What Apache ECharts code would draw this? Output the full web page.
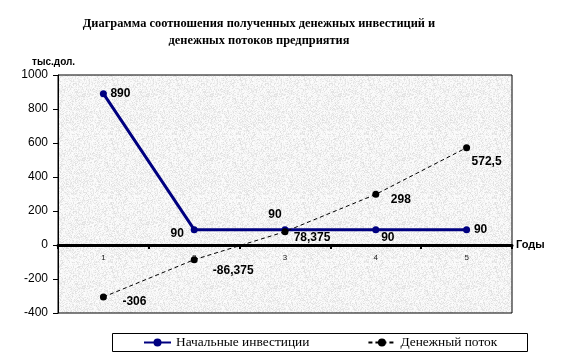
<!DOCTYPE html>
<html><head><meta charset="utf-8">
<script src="https://cdn.jsdelivr.net/npm/echarts@6/dist/echarts.min.js"></script>
<style>html,body{margin:0;padding:0;background:#fff}#c{width:564px;height:358px}</style>
</head><body><div id="c"></div>
<script>
const categories = ['1', '2', '3', '4', '5'];
const investments = [890, 90, 90, 90, 90];
const cashFlow = [-306, -86.375, 78.375, 298, 572.5];
const yTicks = {min: -400, max: 1000, interval: 200};
const seriesNames = ['Начальные инвестиции', 'Денежный поток'];

// label offsets (style only)
const invOffsets = [[17, 0], [-17, 4], [-10, -15], [12, 8], [14, 0]];
const cfOffsets = [[31, 5], [39, 11], [27, 6], [25, 5], [20, 14]];

// speckled texture
const tex = document.createElement('canvas');
tex.width = 64; tex.height = 64;
const tctx = tex.getContext('2d');
const img = tctx.createImageData(64, 64);
let s = 12345;
for (let i = 0; i < 64 * 64; i++) {
  s = (s * 1103515245 + 12345) & 0x7fffffff;
  const r = ((s >> 8) % 1000) / 1000;
  const v = Math.round(252 - 30 * r * r);
  img.data[i * 4] = v; img.data[i * 4 + 1] = v; img.data[i * 4 + 2] = v; img.data[i * 4 + 3] = 255;
}
tctx.putImageData(img, 0, 0);

const fmt = v => String(v).replace('.', ',');
const lbl = {show: true, position: 'inside', fontFamily: 'Liberation Sans, Arial', fontWeight: 'bold', fontSize: 12, color: '#000'};

const chart = echarts.init(document.getElementById('c'), null, {renderer: 'canvas'});
chart.setOption({
  animation: false,
  backgroundColor: '#fff',
  title: {
    text: 'Диаграмма соотношения полученных денежных инвестиций и\nденежных потоков предприятия',
    left: 254, top: 11, textAlign: 'center',
    textStyle: {fontFamily: 'Liberation Serif', fontWeight: 'bold', fontSize: 12.4, lineHeight: 16.5, color: '#000'}
  },
  grid: {left: 58, right: 52, top: 75, bottom: 45, show: true, borderColor: '#000', borderWidth: 1,
    backgroundColor: {image: tex, repeat: 'repeat'}},
  legend: {
    left: 143, top: 336, itemWidth: 27, itemHeight: 10, itemGap: 58, padding: 0,
    textStyle: {fontFamily: 'Liberation Serif', fontSize: 13.4, color: '#000'},
    data: seriesNames
  },
  graphic: [
    {type: 'rect', shape: {x: 112.5, y: 333.5, width: 415, height: 18}, style: {fill: 'none', stroke: '#000', lineWidth: 1}, z: 100},
    {type: 'text', left: 32, top: 57, style: {text: 'тыс.дол.', fontFamily: 'Liberation Sans', fontWeight: 'bold', fontSize: 10, fill: '#000'}}
  ],
  xAxis: {
    type: 'category', data: categories, boundaryGap: true, position: 'bottom', offset: -68,
    name: 'Годы', nameLocation: 'end', nameGap: 4,
    nameTextStyle: {fontFamily: 'Liberation Sans', fontWeight: 'bold', fontSize: 11, color: '#000'},
    axisLine: {onZero: false, lineStyle: {color: '#000', width: 3}},
    axisTick: {show: true, length: 4, lineStyle: {color: '#000', width: 2}},
    axisLabel: {fontFamily: 'Liberation Sans', fontSize: 8, color: '#222', margin: 9},
    splitLine: {show: false}
  },
  yAxis: {
    type: 'value', min: yTicks.min, max: yTicks.max, interval: yTicks.interval,
    axisLine: {show: true, lineStyle: {color: '#000', width: 1}},
    axisTick: {show: true, length: 5, lineStyle: {color: '#000'}},
    axisLabel: {fontFamily: 'Liberation Sans, Arial', fontSize: 12, color: '#000', margin: 10, formatter: v => String(v)},
    splitLine: {show: false}
  },
  series: [
    {
      name: seriesNames[0], type: 'line', data: investments.map((v, i) => ({value: v, label: {offset: invOffsets[i]}})),
      color: '#000080', symbol: 'circle', symbolSize: 7,
      lineStyle: {color: '#000080', width: 3},
      itemStyle: {color: '#000080'},
      label: Object.assign({}, lbl, {formatter: p => fmt(p.value)}),
      z: 3
    },
    {
      name: seriesNames[1], type: 'line', data: cashFlow.map((v, i) => ({value: v, label: {offset: cfOffsets[i]}})),
      color: '#000', symbol: 'circle', symbolSize: 7,
      lineStyle: {color: '#000', width: 1, type: [4, 3]},
      itemStyle: {color: '#000'},
      label: Object.assign({}, lbl, {formatter: p => fmt(p.value)}),
      z: 4
    }
  ]
});
</script></body></html>
